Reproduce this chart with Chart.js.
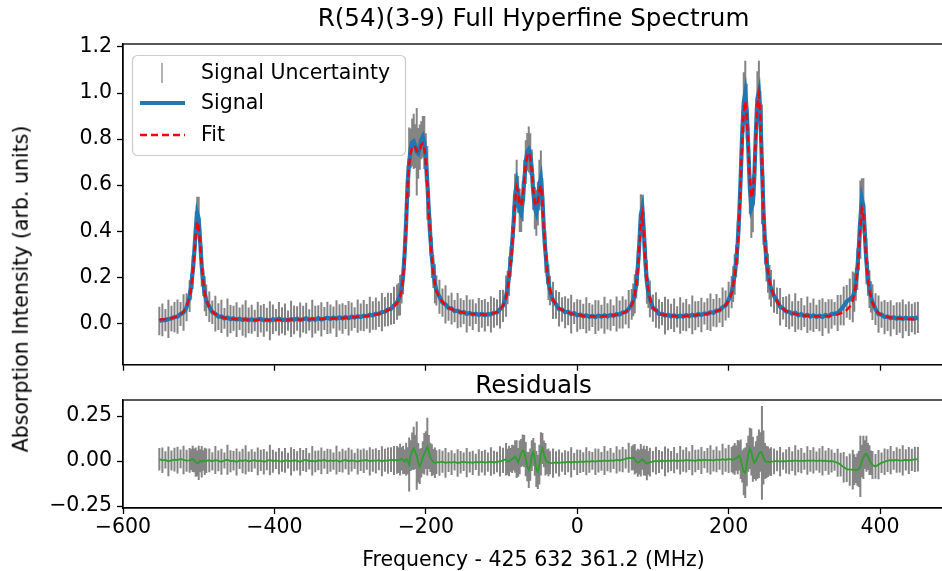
<!DOCTYPE html>
<html>
<head>
<meta charset="utf-8">
<script src="https://cdn.jsdelivr.net/npm/chart.js@4.4.1/dist/chart.umd.min.js"></script>
<style>
html,body{margin:0;padding:0;background:#fff;overflow:hidden;width:942px;height:571px;}
#wrap{position:relative;width:942px;height:571px;overflow:hidden;background:#fff;}
#top{position:absolute;left:0;top:0;}
#bot{position:absolute;left:0;top:370px;}
#ylab{position:absolute;left:21px;top:289px;transform:translate(-50%,-50%) rotate(-90deg);font-family:"DejaVu Sans";font-size:20.5px;color:#000;white-space:nowrap;line-height:1;}
</style>
</head>
<body>
<div id="wrap">
<canvas id="top" width="1000" height="380"></canvas>
<canvas id="bot" width="1000" height="201"></canvas>
<div id="ylab">Absorption Intensity (arb. units)</div>
</div>
<script>
// ---------------- data ----------------
const titleMain = 'R(54)(3-9) Full Hyperfine Spectrum';
const titleResid = 'Residuals';
const xAxisTitle = 'Frequency - 425 632 361.2 (MHz)';
const yAxisTitle = 'Absorption Intensity (arb. units)';
const seriesNames = ['Signal Uncertainty', 'Signal', 'Fit'];
const xTicks = [-600, -400, -200, 0, 200, 400];
const yTicksMain = [0.0, 0.2, 0.4, 0.6, 0.8, 1.0, 1.2];
const yTicksResid = [-0.25, 0.0, 0.25];

// frequency offsets (MHz)
const freq = [
-552,-548,-544,-540,-536,-532,-528,-524,-520,-516,-512,
-510,-508,-506,-504,-502,-500,-498,-496,-494,-492,-490,
-486,-482,-478,-474,-470,-466,-462,-458,-454,-450,-446,-442,-438,-434,-430,-426,-422,-418,-414,-410,-406,-402,-398,-394,-390,-386,-382,-378,-374,-370,-366,-362,-358,-354,-350,-346,-342,-338,-334,-330,-326,-322,-318,-314,-310,-306,-302,-298,-294,-290,-286,-282,-278,-274,-270,-266,-262,-258,-254,-250,-246,-242,-238,
-236,-234,-232,-230,-228,-226,-224,-222,-220,-218,-216,-214,-212,-210,-208,-206,-204,-202,-200,-198,-196,-194,-192,-190,-188,-186,
-182,-178,-174,-170,-166,-162,-158,-154,-150,-146,-142,-138,-134,-130,-126,-122,-118,-114,-110,-106,-102,-98,-94,
-92,-90,-88,-86,-84,-82,-80,-78,-76,-74,-72,-70,-68,-66,-64,-62,-60,-58,-56,-54,-52,-50,-48,-46,-44,-42,-40,-38,-36,
-32,-28,-24,-20,-16,-12,-8,-4,0,4,8,12,16,20,24,28,32,36,40,44,48,52,56,60,64,68,72,
74,76,78,80,82,84,86,88,90,92,94,96,
100,104,108,112,116,120,124,128,132,136,140,144,148,152,156,160,164,168,172,176,180,184,188,192,196,200,204,
206,208,210,212,214,216,218,220,222,224,226,228,230,232,234,236,238,240,242,244,246,248,250,252,254,256,
260,264,268,272,276,280,284,288,292,296,300,304,308,312,316,320,324,328,332,336,340,344,348,352,356,360,364,
366,368,370,372,374,376,378,380,382,384,386,388,390,
394,398,402,406,410,414,418,422,426,430,434,438,442,446,450
];

// measured signal (blue)
const signal = [
0.010,0.015,0.014,0.019,0.021,0.027,0.029,0.040,0.047,0.070,0.118,
0.160,0.222,0.300,0.405,0.478,0.455,0.350,0.248,0.176,0.128,0.100,
0.072,0.048,0.042,0.029,0.030,0.021,0.025,0.018,0.022,0.016,0.020,0.014,0.019,0.013,0.018,0.012,0.017,0.019,0.013,0.016,
0.011,0.018,0.014,0.020,0.013,0.017,0.012,0.019,0.015,0.021,0.014,0.018,0.022,0.015,0.020,0.016,0.023,0.017,0.021,0.024,
0.019,0.025,0.020,0.026,0.021,0.027,0.022,0.029,0.025,0.031,0.027,0.033,0.030,0.037,0.034,0.042,0.040,0.049,0.050,0.060,
0.063,0.078,0.092,
0.104,0.122,0.150,0.205,0.300,0.440,0.610,0.700,0.760,0.785,0.790,0.770,0.745,0.738,0.765,0.795,0.810,0.785,0.720,0.610,0.490,0.375,0.285,0.225,0.172,0.143,
0.115,0.090,0.082,0.066,0.064,0.053,0.055,0.046,0.049,0.041,0.045,0.038,0.042,0.036,0.041,0.035,0.040,0.039,0.046,0.047,0.061,0.076,0.118,
0.155,0.205,0.268,0.345,0.440,0.560,0.605,0.560,0.490,0.475,0.530,0.620,0.700,0.745,0.755,0.735,0.670,0.570,0.500,0.480,0.520,0.600,0.630,0.545,0.405,0.310,0.238,0.178,0.142,
0.100,0.082,0.061,0.060,0.048,0.050,0.040,0.044,0.034,0.038,0.030,0.035,0.028,0.033,0.027,0.034,0.029,0.035,0.030,0.036,0.033,0.040,0.038,0.047,0.049,0.062,0.082,
0.102,0.128,0.170,0.240,0.345,0.470,0.500,0.400,0.270,0.180,0.132,0.106,
0.066,0.058,0.040,0.042,0.033,0.037,0.030,0.035,0.028,0.034,0.029,0.036,0.031,0.037,0.033,0.040,0.036,0.043,0.040,0.048,0.046,0.055,0.056,0.070,0.077,0.102,0.135,
0.170,0.212,0.270,0.350,0.470,0.640,0.830,0.960,1.000,0.920,0.760,0.590,0.500,0.520,0.640,0.830,0.975,1.005,0.900,0.690,0.490,0.355,0.272,0.218,0.178,0.152,
0.118,0.098,0.072,0.065,0.051,0.050,0.041,0.046,0.035,0.040,0.031,0.037,0.029,0.035,0.028,0.034,0.027,0.036,0.030,0.040,0.042,0.045,0.058,0.075,0.095,0.105,0.115,
0.135,0.170,0.235,0.330,0.450,0.540,0.510,0.385,0.270,0.195,0.148,0.115,0.092,
0.062,0.040,0.038,0.027,0.030,0.022,0.026,0.020,0.025,0.019,0.024,0.020,0.023,0.021,0.026
];

// fitted spectrum (red dashed)
const fit = [
0.016,0.017,0.018,0.020,0.023,0.026,0.031,0.039,0.051,0.073,0.115,
0.155,0.210,0.288,0.381,0.442,0.419,0.335,0.246,0.180,0.134,0.103,
0.069,0.050,0.039,0.032,0.027,0.024,0.022,0.020,0.019,0.018,0.017,0.017,0.016,0.016,0.015,0.015,0.015,0.015,0.015,0.015,
0.015,0.015,0.015,0.015,0.015,0.015,0.016,0.016,0.016,0.016,0.016,0.017,0.017,0.017,0.018,0.018,0.019,0.019,0.020,0.020,
0.021,0.021,0.022,0.023,0.023,0.024,0.025,0.026,0.027,0.028,0.029,0.030,0.032,0.034,0.036,0.039,0.042,0.046,0.051,0.057,
0.064,0.074,0.088,
0.100,0.115,0.140,0.190,0.290,0.430,0.600,0.690,0.740,0.765,0.772,0.765,0.750,0.742,0.750,0.775,0.782,0.760,0.700,0.600,0.480,0.370,0.285,0.220,0.170,0.140,
0.112,0.093,0.079,0.069,0.062,0.056,0.052,0.049,0.046,0.044,0.042,0.041,0.040,0.039,0.038,0.038,0.039,0.041,0.044,0.049,0.058,0.078,0.112,
0.150,0.200,0.260,0.330,0.420,0.530,0.590,0.570,0.520,0.510,0.550,0.620,0.690,0.730,0.740,0.720,0.660,0.580,0.525,0.510,0.530,0.580,0.600,0.530,0.400,0.310,0.240,0.180,0.145,
0.102,0.080,0.066,0.058,0.052,0.047,0.043,0.040,0.037,0.035,0.033,0.032,0.031,0.030,0.030,0.030,0.030,0.031,0.032,0.033,0.035,0.037,0.040,0.044,0.050,0.060,0.079,
0.096,0.123,0.164,0.230,0.329,0.441,0.474,0.388,0.275,0.193,0.141,0.108,
0.068,0.055,0.045,0.039,0.036,0.034,0.033,0.032,0.031,0.031,0.031,0.032,0.033,0.034,0.035,0.037,0.039,0.040,0.042,0.045,0.048,0.052,0.058,0.066,0.079,0.098,0.130,
0.165,0.205,0.260,0.340,0.460,0.630,0.800,0.920,0.965,0.900,0.760,0.620,0.545,0.560,0.660,0.820,0.950,0.995,0.880,0.680,0.480,0.350,0.270,0.220,0.180,0.155,
0.120,0.095,0.075,0.062,0.054,0.048,0.044,0.041,0.038,0.036,0.034,0.033,0.032,0.031,0.030,0.030,0.030,0.031,0.032,0.034,0.036,0.039,0.043,0.049,0.058,0.072,0.100,
0.125,0.164,0.222,0.310,0.420,0.498,0.469,0.364,0.262,0.190,0.143,0.111,0.090,
0.058,0.044,0.036,0.031,0.027,0.025,0.023,0.022,0.021,0.020,0.019,0.018,0.017,0.016,0.016
];

// signal uncertainty (half length of grey error bars)
const uncertainty = [
0.062,0.071,0.048,0.083,0.055,0.066,0.074,0.052,0.079,0.061,0.069,
0.058,0.073,0.066,0.081,0.072,0.095,0.064,0.088,0.057,0.076,0.068,
0.066,0.051,0.078,0.058,0.072,0.045,0.083,0.061,0.054,0.075,0.049,0.068,0.081,0.056,0.063,0.047,0.077,0.059,0.071,0.052,
0.085,0.064,0.048,0.073,0.057,0.069,0.044,0.079,0.062,0.053,0.076,0.058,0.067,0.046,0.082,0.060,0.055,0.074,0.050,0.070,
0.063,0.048,0.080,0.057,0.066,0.052,0.075,0.061,0.045,0.072,0.059,0.068,0.054,0.078,0.062,0.070,0.056,0.083,0.064,0.073,
0.069,0.081,0.077,
0.071,0.088,0.064,0.079,0.068,0.092,0.075,0.150,0.086,0.104,0.120,0.095,0.190,0.110,0.098,0.082,0.090,0.115,0.105,0.160,0.094,0.081,0.088,0.072,0.085,0.066,
0.074,0.061,0.083,0.055,0.069,0.048,0.077,0.063,0.052,0.081,0.058,0.067,0.045,0.074,0.060,0.071,0.053,0.079,0.065,0.057,0.084,0.070,0.090,
0.072,0.085,0.066,0.079,0.070,0.090,0.105,0.080,0.094,0.078,0.088,0.090,0.095,0.082,0.100,0.090,0.085,0.078,0.092,0.100,0.095,0.110,0.120,0.086,0.074,0.090,0.068,0.077,0.064,
0.081,0.062,0.075,0.053,0.069,0.058,0.084,0.047,0.071,0.064,0.055,0.078,0.060,0.049,0.073,0.066,0.052,0.080,0.057,0.068,0.045,0.076,0.061,0.070,0.054,0.083,0.067,
0.071,0.085,0.062,0.078,0.069,0.090,0.058,0.083,0.074,0.095,0.066,0.080,
0.059,0.077,0.064,0.050,0.082,0.067,0.055,0.073,0.046,0.079,0.061,0.070,0.052,0.084,0.063,0.057,0.075,0.048,0.069,0.081,0.060,0.072,0.054,0.086,0.065,0.078,0.070,
0.078,0.088,0.070,0.095,0.082,0.110,0.090,0.130,0.140,0.120,0.100,0.115,0.130,0.125,0.090,0.110,0.120,0.135,0.110,0.260,0.150,0.100,0.090,0.085,0.075,0.080,
0.072,0.058,0.081,0.049,0.067,0.076,0.055,0.084,0.062,0.070,0.047,0.079,0.060,0.073,0.053,0.068,0.082,0.057,0.074,0.064,0.050,0.078,0.066,0.085,0.071,0.090,0.110,
0.085,0.072,0.090,0.100,0.170,0.090,0.120,0.080,0.100,0.075,0.082,0.068,0.078,
0.069,0.081,0.057,0.074,0.063,0.078,0.052,0.071,0.066,0.084,0.059,0.075,0.062,0.070,0.068
];

// residuals (green)
const residual = [
0.010,0.004,0.006,-0.002,0.003,0.008,0.005,0.012,0.006,0.002,0.004,
0.008,0.012,0.004,-0.006,-0.013,-0.010,0.002,-0.004,0.003,-0.002,0.001,
0.004,-0.002,0.006,0.001,-0.004,0.003,0.007,-0.001,0.002,-0.005,0.004,0.000,0.006,-0.003,0.002,0.005,-0.002,0.003,-0.004,0.001,
0.006,-0.001,0.003,0.000,-0.003,0.004,0.002,-0.002,0.005,0.001,-0.004,0.003,0.006,-0.001,0.002,-0.003,0.004,0.001,0.007,-0.002,
0.003,0.000,0.005,-0.004,0.002,0.006,-0.001,0.003,0.001,-0.003,0.004,0.002,0.006,-0.002,0.003,0.001,0.005,-0.001,0.004,0.002,
0.008,0.003,0.006,
0.004,0.008,0.012,0.006,-0.004,0.010,0.002,-0.020,0.030,0.055,0.070,0.050,0.030,-0.010,-0.030,-0.010,0.020,0.040,0.060,0.080,0.050,0.020,0.005,-0.005,-0.010,-0.006,
-0.008,-0.004,-0.010,-0.006,-0.009,-0.005,-0.011,-0.007,-0.004,-0.009,-0.006,-0.010,-0.005,-0.008,-0.004,-0.009,-0.006,-0.003,-0.008,-0.005,-0.002,0.004,0.010,
-0.004,0.000,0.006,0.012,0.018,0.025,0.010,-0.008,0.020,0.045,0.060,0.055,0.010,-0.030,-0.050,-0.020,0.030,0.050,0.010,-0.045,-0.060,-0.020,0.040,0.070,0.040,0.010,-0.004,-0.008,-0.010,
-0.012,-0.008,-0.011,-0.006,-0.009,-0.004,-0.008,-0.003,-0.007,-0.002,-0.006,-0.001,-0.005,0.001,-0.004,0.002,-0.002,0.003,0.000,0.004,0.001,0.006,0.003,0.008,0.012,0.018,0.015,
0.020,0.010,-0.004,-0.010,-0.006,0.004,0.010,0.002,-0.008,-0.012,-0.010,-0.006,
-0.004,0.002,-0.003,0.004,-0.002,0.003,0.000,0.005,-0.001,0.004,0.001,0.006,0.002,0.005,0.000,0.007,0.003,0.008,0.004,0.006,0.002,0.009,0.005,0.010,0.006,0.012,0.008,
0.008,0.012,0.016,0.022,0.030,0.010,-0.030,-0.060,-0.065,-0.020,0.040,0.070,0.050,0.010,-0.010,0.000,0.020,0.040,0.050,0.045,0.020,0.000,-0.005,-0.004,-0.006,-0.003,
-0.002,0.001,-0.003,0.000,-0.002,0.002,-0.001,0.003,0.000,0.002,-0.001,0.003,0.001,0.004,0.000,0.003,0.001,0.002,-0.002,0.000,-0.004,-0.010,-0.020,-0.035,-0.045,-0.048,-0.048,
-0.048,-0.050,-0.048,-0.045,-0.030,0.000,0.020,0.035,0.040,0.025,0.005,-0.010,-0.022,
-0.030,-0.020,-0.010,-0.004,0.002,0.005,0.003,0.006,0.002,0.004,0.007,0.003,0.006,0.009,0.010
];

// axis limits
const xRange = [-600, 484.5];
const yRangeMain = [-0.18, 1.213];
const yRangeResid = [-0.261, 0.339];

// ---------------- build chart tables ----------------
if (![signal, fit, uncertainty, residual].every(a => a.length === freq.length)) {
  console.error('length mismatch', freq.length, signal.length, fit.length, uncertainty.length, residual.length);
}
function errSegments(center) {
  const out = [];
  for (let i = 0; i < freq.length; i++) {
    out.push({x: freq[i], y: center[i] - uncertainty[i]});
    out.push({x: freq[i], y: center[i] + uncertainty[i]});
    out.push({x: freq[i], y: null});
  }
  return out;
}
const pts = arr => freq.map((f, i) => ({x: f, y: arr[i]}));

const FONT = 'DejaVu Sans';
const GRAY = 'rgba(85,85,85,0.72)';
const BLUE = '#1f77b4';
const RED = '#ff0000';
const GREEN = '#2ca02c';
const minus = s => s.replace('-', '\u2212');
const fmtX = v => xTicks.includes(v) ? minus(String(v)) : '';
const near = (list, v) => list.some(t => Math.abs(t - v) < 1e-6);

const framePlugin = {
  id: 'frame',
  afterDraw(chart) {
    const {ctx, chartArea: a} = chart;
    ctx.save();
    ctx.strokeStyle = '#000';
    ctx.lineWidth = 1.3;
    ctx.strokeRect(a.left, a.top, a.right - a.left, a.bottom - a.top);
    ctx.restore();
  }
};

const legendPlugin = {
  id: 'mplLegend',
  afterDatasetsDraw(chart) {
    const {ctx, chartArea: a} = chart;
    const ds = chart.data.datasets;
    const x0 = a.left + 9, y0 = a.top + 11, w = 273, h = 100;
    ctx.save();
    ctx.fillStyle = 'rgba(255,255,255,0.85)';
    ctx.strokeStyle = '#cccccc';
    ctx.lineWidth = 1.2;
    ctx.beginPath();
    ctx.roundRect(x0 + 0.5, y0 + 0.5, w, h, 5);
    ctx.fill();
    ctx.stroke();
    const rows = [y0 + 18, y0 + 48, y0 + 80];
    ctx.font = '20.5px "' + FONT + '"';
    ctx.textBaseline = 'middle';
    ctx.fillStyle = '#000';
    ds.forEach((d, i) => {
      const cy = rows[i];
      ctx.save();
      ctx.strokeStyle = i === 0 ? 'rgba(95,95,95,0.75)' : d.borderColor;
      ctx.lineWidth = i === 0 ? 1.3 : d.borderWidth;
      if (d.borderDash) ctx.setLineDash(d.borderDash);
      ctx.beginPath();
      if (i === 0) {
        ctx.moveTo(x0 + 30, cy - 10);
        ctx.lineTo(x0 + 30, cy + 10);
      } else {
        ctx.moveTo(x0 + 8, cy);
        ctx.lineTo(x0 + 53, cy);
      }
      ctx.stroke();
      ctx.restore();
      ctx.fillText(d.label, x0 + 69, cy + 1);
    });
    ctx.restore();
  }
};

const axisCommon = {
  grid: {drawOnChartArea: false, drawTicks: true, tickLength: 6, tickColor: '#000', tickWidth: 1.3},
  border: {display: true, color: '#000', width: 1.3}
};
const tickFont = {family: FONT, size: 20.5, lineHeight: 1};

// ---------------- top chart ----------------
new Chart(document.getElementById('top'), {
  type: 'line',
  data: {
    datasets: [
      {label: seriesNames[0], data: errSegments(signal), borderColor: GRAY, borderWidth: 2, pointRadius: 0, spanGaps: false, order: 3},
      {label: seriesNames[1], data: pts(signal), borderColor: BLUE, borderWidth: 4.2, pointRadius: 0, order: 2},
      {label: seriesNames[2], data: pts(fit), borderColor: RED, borderWidth: 2.4, borderDash: [7, 4], pointRadius: 0, order: 1}
    ]
  },
  options: {
    responsive: false, animation: false, devicePixelRatio: 1,
    layout: {padding: {left: 0, right: 56, top: 0, bottom: 7}},
    plugins: {
      legend: {display: false}, tooltip: {enabled: false},
      title: {display: true, fullSize: false, text: titleMain, color: '#000', font: {family: FONT, size: 24.6, weight: 'normal', lineHeight: 1}, padding: {top: 7.7, bottom: 11.7}}
    },
    scales: {
      x: Object.assign({type: 'linear', min: xRange[0], max: xRange[1],
        ticks: {display: false, stepSize: 200, includeBounds: false},
        afterFit(s) { s.height = 6; }}, axisCommon),
      y: Object.assign({type: 'linear', min: yRangeMain[0], max: yRangeMain[1],
        ticks: {stepSize: 0.2, includeBounds: false, font: tickFont, color: '#000', padding: 5,
          callback: v => near(yTicksMain, v) ? minus(v.toFixed(1)) : ''},
        afterFit(s) { s.width = 123; }}, axisCommon)
    }
  },
  plugins: [legendPlugin, framePlugin]
});

// ---------------- residual chart ----------------
new Chart(document.getElementById('bot'), {
  type: 'line',
  data: {
    datasets: [
      {label: 'Residual Uncertainty', data: errSegments(residual), borderColor: GRAY, borderWidth: 2, pointRadius: 0, spanGaps: false, order: 2},
      {label: 'Residuals', data: pts(residual), borderColor: GREEN, borderWidth: 1.8, pointRadius: 0, order: 1}
    ]
  },
  options: {
    responsive: false, animation: false, devicePixelRatio: 1,
    layout: {padding: {left: 0, right: 56, top: 0, bottom: 0}},
    plugins: {
      legend: {display: false}, tooltip: {enabled: false},
      title: {display: true, fullSize: false, text: titleResid, color: '#000', font: {family: FONT, size: 24.6, weight: 'normal', lineHeight: 1}, padding: {top: 4.7, bottom: 0.7}}
    },
    scales: {
      x: Object.assign({type: 'linear', min: xRange[0], max: xRange[1],
        ticks: {stepSize: 200, includeBounds: false, font: tickFont, color: '#000', padding: 3, maxRotation: 0, autoSkip: false,
          callback: v => fmtX(v)},
        title: {display: true, text: xAxisTitle, color: '#000', font: {family: FONT, size: 20.5, lineHeight: 1}, padding: {top: 0, bottom: 0}},
        afterFit(s) { s.height = 63; }}, axisCommon),
      y: Object.assign({type: 'linear', min: yRangeResid[0], max: yRangeResid[1],
        ticks: {stepSize: 0.25, includeBounds: false, font: tickFont, color: '#000', padding: 5,
          callback: v => near(yTicksResid, v) ? minus(v.toFixed(2)) : ''},
        afterFit(s) { s.width = 123; }}, axisCommon)
    }
  },
  plugins: [framePlugin]
});
document.getElementById('ylab').textContent = yAxisTitle;
</script>
</body>
</html>
